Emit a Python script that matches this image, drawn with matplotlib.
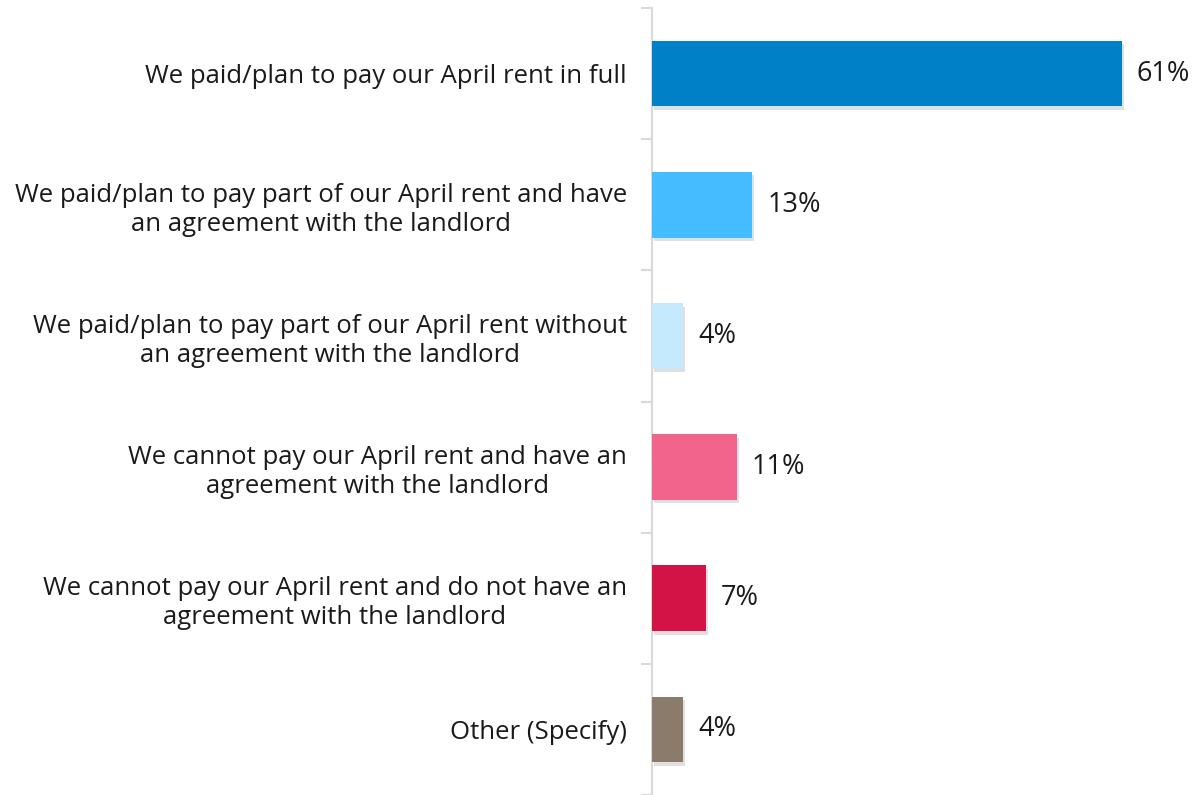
import matplotlib
matplotlib.use("Agg")
import matplotlib.pyplot as plt
import matplotlib.patheffects as pe
import numpy as np

# ==============================================================
# DATA
# ==============================================================

categories = [
    "We paid/plan to pay our April rent in full",
    "We paid/plan to pay part of our April rent and have\nan agreement with the landlord",
    "We paid/plan to pay part of our April rent without\nan agreement with the landlord",
    "We cannot pay our April rent and have an\nagreement with the landlord",
    "We cannot pay our April rent and do not have an\nagreement with the landlord",
    "Other (Specify)",
]
values = [61, 13, 4, 11, 7, 4]
colors = ["#0080C6", "#44BCFF", "#C5E9FD", "#F2648A", "#D31245", "#8B7B6A"]

# ==============================================================
# FIGURE
# ==============================================================

plt.rcParams["font.family"] = ["Open Sans", "DejaVu Sans"]

fig = plt.figure(figsize=(11.97, 7.95), dpi=100)
ax = fig.add_axes([652 / 1197, 0.0, (1191 - 652) / 1197, 1 - 8 / 795])

y = np.arange(len(categories))
bars = ax.barh(y, values, height=0.5, color=colors, zorder=3)

# soft drop shadow under each bar
for b in bars:
    b.set_path_effects([
        pe.SimplePatchShadow(offset=(1.5, -2.5), shadow_rgbFace="#999999", alpha=0.3),
        pe.Normal(),
    ])

for b, v in zip(bars, values):
    ax.annotate(f"{v}%", (b.get_width(), b.get_y() + b.get_height() / 2),
                xytext=(11, 0), textcoords="offset points",
                va="center", ha="left", fontsize=19.5, color="#1a1a1a")

ax.set_xlim(0, 70)
ax.set_ylim(5.462, -0.5)

ax.set_yticks(y)
ax.set_yticklabels(categories, fontsize=18.5, color="#1a1a1a",
                   multialignment="center", linespacing=1.22)
ax.set_yticks(np.arange(-0.5, 6.0, 1.0), minor=True)
ax.tick_params(axis="y", which="major", length=0, pad=18)
ax.tick_params(axis="y", which="minor", length=8, width=1.5, color="#D9D9D9")
ax.set_xticks([])

for side in ["top", "right", "bottom"]:
    ax.spines[side].set_visible(False)
ax.spines["left"].set_color("#D9D9D9")
ax.spines["left"].set_linewidth(1.5)

fig.savefig("out.png", dpi=100)
